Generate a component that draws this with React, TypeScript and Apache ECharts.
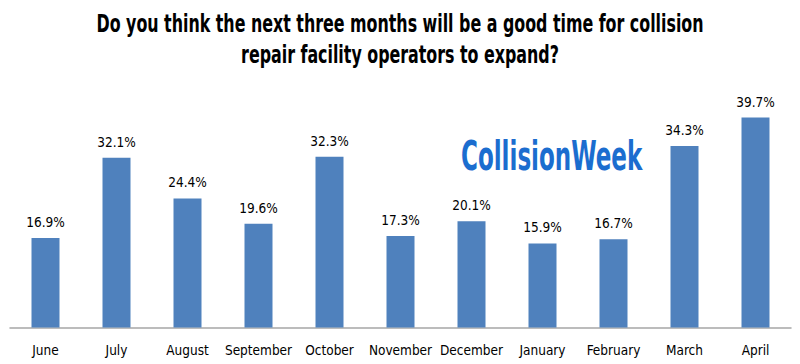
import React, { useEffect, useRef } from "react";
import * as echarts from "echarts";

const categories = ["June", "July", "August", "September", "October", "November", "December", "January", "February", "March", "April"];
const values = [16.9, 32.1, 24.4, 19.6, 32.3, 17.3, 20.1, 15.9, 16.7, 34.3, 39.7];
const titleLines = ["Do you think the next three months will be a good time for collision", "repair facility operators to expand?"];
const logoText = "CollisionWeek";

const FONT = "'DejaVu Sans Condensed', 'Liberation Sans Narrow', sans-serif";

export default function App() {
  const ref = useRef<HTMLDivElement>(null);
  useEffect(() => {
    document.body.style.margin = "0";
    if (!ref.current) return;
    const chart = echarts.init(ref.current, null, { renderer: "svg" });
    chart.setOption({
      animation: false,
      backgroundColor: "#ffffff",
      grid: { left: 10, right: 9, top: 89.5, bottom: 36.5, containLabel: false },
      xAxis: {
        type: "category",
        data: categories,
        axisLine: { lineStyle: { color: "#A6A6A6", width: 1.5 } },
        axisTick: { show: false },
        axisLabel: { interval: 0, fontFamily: FONT, fontSize: 13.5, color: "#000", margin: 15 },
      },
      yAxis: { type: "value", min: 0, max: 45, show: false, splitLine: { show: false } },
      graphic: [
        {
          type: "text",
          x: 400,
          y: 23,
          scaleX: 0.735,
          style: {
            text: titleLines[0],
            fontFamily: FONT,
            fontWeight: "bold",
            fontSize: 24,
            fill: "#000",
            align: "center",
            verticalAlign: "middle",
          },
        },
        {
          type: "text",
          x: 400,
          y: 54,
          scaleX: 0.735,
          style: {
            text: titleLines[1],
            fontFamily: FONT,
            fontWeight: "bold",
            fontSize: 24,
            fill: "#000",
            align: "center",
            verticalAlign: "middle",
          },
        },
        {
          type: "text",
          x: 461,
          y: 156,
          scaleX: 0.64,
          style: {
            text: logoText,
            fontFamily: FONT,
            fontWeight: "bold",
            fontSize: 40,
            fill: "#1B6DCF",
            align: "left",
            verticalAlign: "middle",
          },
        },
      ],
      series: [
        {
          type: "bar",
          data: values,
          barWidth: 28,
          itemStyle: { color: "#4F81BD" },
          label: {
            show: true,
            position: "top",
            distance: 9,
            formatter: (p: any) => p.value.toFixed(1) + "%",
            fontFamily: FONT,
            fontSize: 13.5,
            color: "#000",
          },
        },
      ],
    });
    return () => chart.dispose();
  }, []);
  return <div ref={ref} style={{ width: 800, height: 364 }} />;
}
